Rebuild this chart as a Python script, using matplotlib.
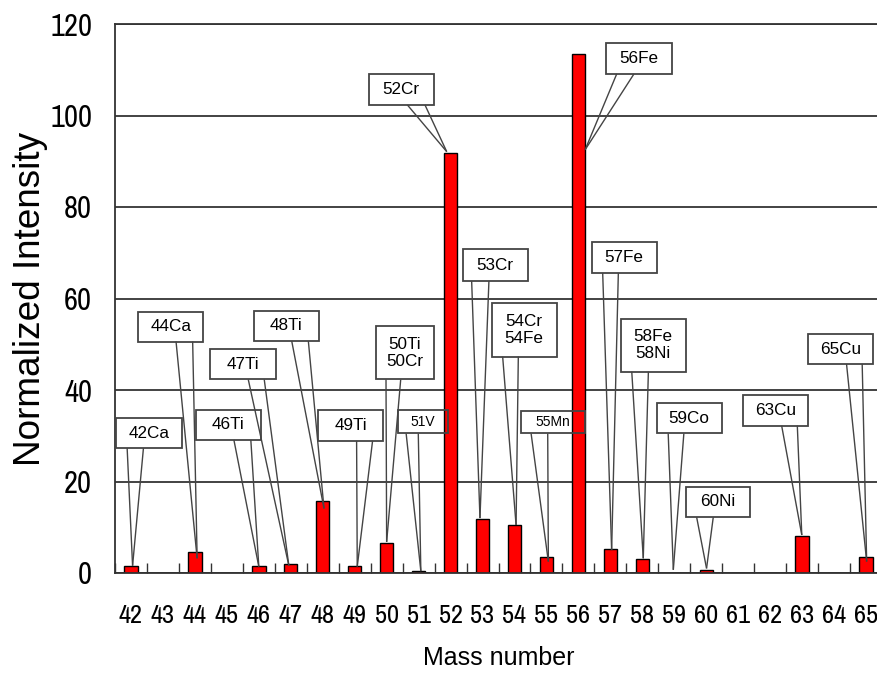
import numpy as np
import matplotlib
matplotlib.use("Agg")
import matplotlib.pyplot as plt
from matplotlib import font_manager
from matplotlib.patches import Rectangle
from matplotlib.ticker import FixedLocator

# ---- data -------------------------------------------------------------
mass_numbers = list(range(42, 66))
intensity = [1.6, 0, 4.5, 0, 1.6, 2.0, 15.8, 1.6, 6.6, 0.5, 91.9, 11.8,
             10.6, 3.4, 113.4, 5.2, 3.1, 0, 0.7, 0, 0, 8.0, 0, 3.4]

isotope_labels = ["42Ca", "44Ca", "46Ti", "47Ti", "48Ti", "49Ti", "50Ti\n50Cr",
                  "51V", "52Cr", "53Cr", "54Cr\n54Fe", "55Mn", "56Fe", "57Fe",
                  "58Fe\n58Ni", "59Co", "60Ni", "63Cu", "65Cu"]
isotope_mass = [42, 44, 46, 47, 48, 49, 50, 51, 52, 53, 54, 55, 56, 57, 58,
                59, 60, 63, 65]

# ---- callout layout (data coordinates) -------------------------------
# box: left, right, bottom, top ; base: x0, x1 ; tip: dx from bar centre, y
callout_box = [
    (-0.47, 1.59, 27.3, 33.8), (0.23, 2.26, 50.6, 57.1), (2.03, 4.07, 29.1, 35.6),
    (2.47, 4.53, 42.3, 48.9), (3.84, 5.87, 50.7, 57.3), (5.86, 7.88, 28.9, 35.6),
    (7.67, 9.47, 42.3, 54.0), (8.35, 9.91, 30.5, 35.6), (7.44, 9.47, 102.3, 109.1),
    (10.38, 12.41, 63.8, 70.8), (11.29, 13.32, 47.3, 59.0), (12.19, 14.21, 30.5, 35.5),
    (14.86, 16.92, 109.1, 115.8), (14.42, 16.45, 65.6, 72.3), (15.32, 17.36, 44.0, 55.5),
    (16.45, 18.48, 30.5, 37.2), (17.36, 19.38, 12.2, 18.9), (19.16, 21.19, 32.2, 38.8),
    (21.19, 23.23, 45.7, 52.2),
]
callout_base = [
    (-0.12, 0.39), (1.41, 1.93), (3.22, 3.75), (3.67, 4.17), (5.03, 5.55),
    (7.06, 7.56), (7.98, 8.44), (8.61, 8.99), (8.65, 9.20), (10.66, 11.20),
    (11.63, 12.12), (12.52, 13.04), (15.20, 15.74), (14.76, 15.25), (15.67, 16.19),
    (16.81, 17.30), (17.70, 18.22), (20.36, 20.85), (22.39, 22.88),
]
callout_tip = [
    (0.05, 1.6), (0.07, 3.2), (0.0, 1.4), (-0.06, 1.6), (0.04, 14.1), (0.08, 1.4),
    (0.0, 6.8), (0.07, 0.4), (-0.12, 92.1), (-0.08, 12.0), (0.05, 10.5),
    (0.06, 2.5), (0.21, 92.5), (0.04, 5.0), (0.03, 3.2), (-0.03, 0.7),
    (0.01, 1.0), (-0.01, 8.3), (0.02, 2.5),
]
small_labels = {"51V", "55Mn"}

# ---- fonts ------------------------------------------------------------
available = {f.name for f in font_manager.fontManager.ttflist}
regular = "Liberation Sans" if "Liberation Sans" in available else "DejaVu Sans"


def condensed_font():
    """Return text kwargs for the narrowest installed sans face."""
    for f in font_manager.fontManager.ttflist:
        if "Narrow" in f.name or "Condensed" in f.name:
            return {"fontfamily": f.name}, True
    for f in font_manager.fontManager.ttflist:
        st = f.stretch
        if (isinstance(st, str) and "condensed" in st) or \
           (isinstance(st, (int, float)) and st < 500):
            return {"fontfamily": f.name, "fontstretch": st}, True
    return {"fontfamily": regular}, False


cond_kw, has_condensed = condensed_font()
ytick_size = 22 if has_condensed else 17
xtick_size = 19 if has_condensed else 14

# ---- figure -----------------------------------------------------------
W, H = 877, 675
fig = plt.figure(figsize=(W / 100, H / 100), dpi=100, facecolor="white")
ax = fig.add_axes([115 / W, (H - 573) / H, (882 - 115) / W, (573 - 24) / H])

x = np.arange(len(mass_numbers))
ax.bar(x, intensity, width=0.42, color="#ff0000", edgecolor="black",
       linewidth=1.0, zorder=2)

ax.set_xlim(-0.5, len(mass_numbers) - 0.5)
ax.set_ylim(0, 120)

# y axis
ax.set_yticks(np.arange(0, 121, 20))
ax.yaxis.grid(True, color="#222222", linewidth=1.2, zorder=0)
ax.set_axisbelow(True)
ax.tick_params(axis="y", length=0, pad=16.5)
ax.set_yticklabels([str(v) for v in range(0, 121, 20)], fontsize=ytick_size,
                   **cond_kw)

# x axis: labels at the centres, inward ticks at category boundaries
ax.set_xticks(x)
ax.set_xticklabels([str(m) for m in mass_numbers], fontsize=xtick_size,
                   **cond_kw)
ax.xaxis.set_minor_locator(FixedLocator(np.arange(-0.5, len(mass_numbers), 1.0)))
ax.tick_params(axis="x", which="major", length=0, pad=22 if has_condensed else 25)
ax.tick_params(axis="x", which="minor", direction="in", length=7,
               width=1.0, color="#333333")

for side in ("top", "left", "bottom", "right"):
    ax.spines[side].set_color("#333333")
    ax.spines[side].set_linewidth(1.3)

ax.set_ylabel("Normalized Intensity", fontsize=26.6, fontfamily=regular)
ax.yaxis.set_label_coords(-0.087, 0.5)
ax.set_xlabel("Mass number", fontsize=18, fontfamily=regular, va="top")
ax.xaxis.set_label_coords(0.5, -0.133)

# ---- callouts ---------------------------------------------------------
for text, mass, box, base, tip in zip(isotope_labels, isotope_mass,
                                      callout_box, callout_base, callout_tip):
    left, right, bottom, top = box
    tx = mass_numbers.index(mass) + tip[0]
    ty = tip[1]
    for bx in base:
        ax.plot([bx, tx], [bottom, ty], color="#444444", linewidth=1.0,
                zorder=4, solid_capstyle="butt")
    ax.add_patch(Rectangle((left, bottom), right - left, top - bottom,
                           facecolor="none", edgecolor="#444444",
                           linewidth=1.3, zorder=5))
    size = 10 if text in small_labels else 12.3
    ax.text((left + right) / 2, (bottom + top) / 2, text, ha="center",
            va="center", fontsize=size, fontfamily=regular,
            linespacing=1.15, zorder=6)

fig.savefig("out.png", dpi=100, facecolor="white")
